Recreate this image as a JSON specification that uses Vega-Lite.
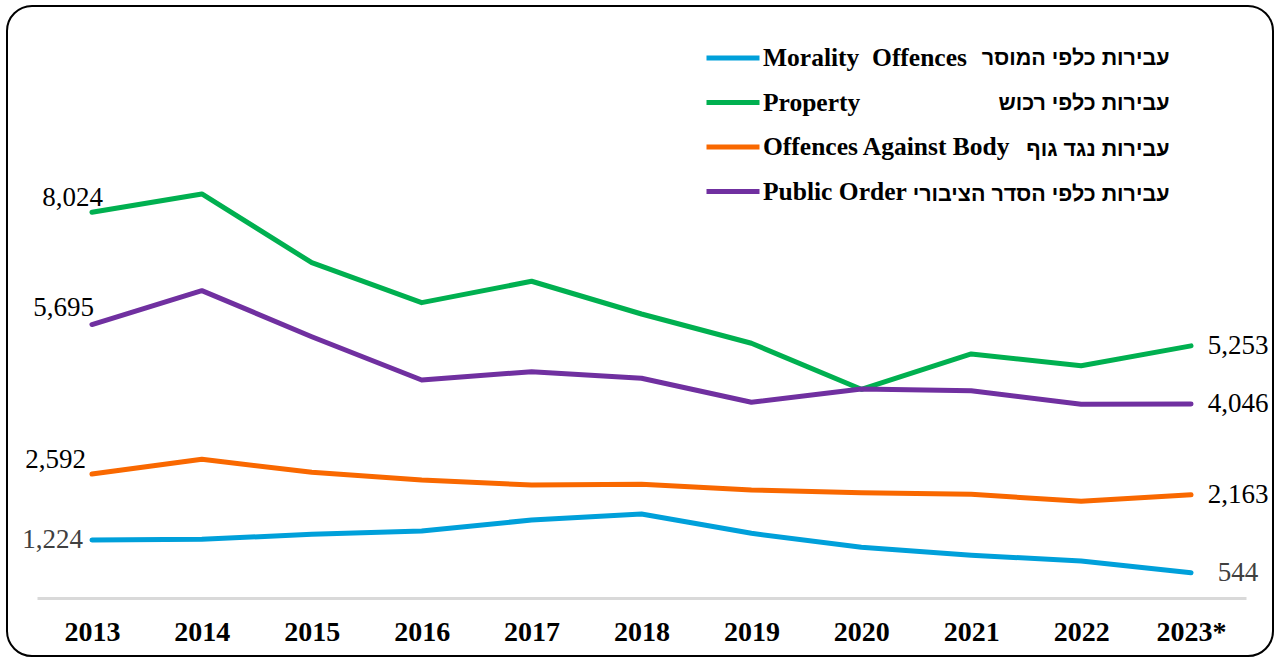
{
  "$schema": "https://vega.github.io/schema/vega-lite/v6.json",
  "autosize": "none",
  "width": 1266,
  "height": 650,
  "padding": {"left": 7, "top": 6, "right": 4, "bottom": 1},
  "background": "white",
  "config": {
    "view": {"stroke": "black", "strokeWidth": 2, "cornerRadius": 25, "fill": "white"},
    "font": "Liberation Serif"
  },
  "data": {
    "values": [
      {"year": "2013", "series": "Morality Offences", "he": "עבירות כלפי המוסר", "value": 1224},
      {"year": "2014", "series": "Morality Offences", "he": "עבירות כלפי המוסר", "value": 1239},
      {"year": "2015", "series": "Morality Offences", "he": "עבירות כלפי המוסר", "value": 1343},
      {"year": "2016", "series": "Morality Offences", "he": "עבירות כלפי המוסר", "value": 1411},
      {"year": "2017", "series": "Morality Offences", "he": "עבירות כלפי המוסר", "value": 1639},
      {"year": "2018", "series": "Morality Offences", "he": "עבירות כלפי המוסר", "value": 1764},
      {"year": "2019", "series": "Morality Offences", "he": "עבירות כלפי המוסר", "value": 1363},
      {"year": "2020", "series": "Morality Offences", "he": "עבירות כלפי המוסר", "value": 1073},
      {"year": "2021", "series": "Morality Offences", "he": "עבירות כלפי המוסר", "value": 907},
      {"year": "2022", "series": "Morality Offences", "he": "עבירות כלפי המוסר", "value": 789},
      {"year": "2023*", "series": "Morality Offences", "he": "עבירות כלפי המוסר", "value": 544},
      {"year": "2013", "series": "Property", "he": "עבירות כלפי רכוש", "value": 8024},
      {"year": "2014", "series": "Property", "he": "עבירות כלפי רכוש", "value": 8404},
      {"year": "2015", "series": "Property", "he": "עבירות כלפי רכוש", "value": 6979},
      {"year": "2016", "series": "Property", "he": "עבירות כלפי רכוש", "value": 6149},
      {"year": "2017", "series": "Property", "he": "עבירות כלפי רכוש", "value": 6593},
      {"year": "2018", "series": "Property", "he": "עבירות כלפי רכוש", "value": 5914},
      {"year": "2019", "series": "Property", "he": "עבירות כלפי רכוש", "value": 5306},
      {"year": "2020", "series": "Property", "he": "עבירות כלפי רכוש", "value": 4352},
      {"year": "2021", "series": "Property", "he": "עבירות כלפי רכוש", "value": 5084},
      {"year": "2022", "series": "Property", "he": "עבירות כלפי רכוש", "value": 4841},
      {"year": "2023*", "series": "Property", "he": "עבירות כלפי רכוש", "value": 5253},
      {"year": "2013", "series": "Offences Against Body", "he": "עבירות נגד גוף", "value": 2592},
      {"year": "2014", "series": "Offences Against Body", "he": "עבירות נגד גוף", "value": 2899},
      {"year": "2015", "series": "Offences Against Body", "he": "עבירות נגד גוף", "value": 2629},
      {"year": "2016", "series": "Offences Against Body", "he": "עבירות נגד גוף", "value": 2469},
      {"year": "2017", "series": "Offences Against Body", "he": "עבירות נגד גוף", "value": 2366},
      {"year": "2018", "series": "Offences Against Body", "he": "עבירות נגד גוף", "value": 2380},
      {"year": "2019", "series": "Offences Against Body", "he": "עבירות נגד גוף", "value": 2262},
      {"year": "2020", "series": "Offences Against Body", "he": "עבירות נגד גוף", "value": 2206},
      {"year": "2021", "series": "Offences Against Body", "he": "עבירות נגד גוף", "value": 2173},
      {"year": "2022", "series": "Offences Against Body", "he": "עבירות נגד גוף", "value": 2027},
      {"year": "2023*", "series": "Offences Against Body", "he": "עבירות נגד גוף", "value": 2163},
      {"year": "2013", "series": "Public Order", "he": "עבירות כלפי הסדר הציבורי", "value": 5695},
      {"year": "2014", "series": "Public Order", "he": "עבירות כלפי הסדר הציבורי", "value": 6398},
      {"year": "2015", "series": "Public Order", "he": "עבירות כלפי הסדר הציבורי", "value": 5443},
      {"year": "2016", "series": "Public Order", "he": "עבירות כלפי הסדר הציבורי", "value": 4545},
      {"year": "2017", "series": "Public Order", "he": "עבירות כלפי הסדר הציבורי", "value": 4717},
      {"year": "2018", "series": "Public Order", "he": "עבירות כלפי הסדר הציבורי", "value": 4580},
      {"year": "2019", "series": "Public Order", "he": "עבירות כלפי הסדר הציבורי", "value": 4082},
      {"year": "2020", "series": "Public Order", "he": "עבירות כלפי הסדר הציבורי", "value": 4358},
      {"year": "2021", "series": "Public Order", "he": "עבירות כלפי הסדר הציבורי", "value": 4322},
      {"year": "2022", "series": "Public Order", "he": "עבירות כלפי הסדר הציבורי", "value": 4040},
      {"year": "2023*", "series": "Public Order", "he": "עבירות כלפי הסדר הציבורי", "value": 4046}
    ]
  },
  "encoding": {
    "x": {
      "field": "year",
      "type": "ordinal",
      "scale": {"type": "point", "range": [30, 1239], "padding": 0.5},
      "axis": {
        "title": null,
        "labelAngle": 0,
        "ticks": false,
        "tickSize": 0,
        "grid": false,
        "offset": -58,
        "domainColor": "#d9d9d9",
        "domainWidth": 3,
        "labelFont": "Liberation Serif",
        "labelFontSize": 28,
        "labelFontWeight": "bold",
        "labelColor": "black",
        "labelBaseline": "alphabetic",
        "labelPadding": 42
      }
    },
    "y": {
      "field": "value",
      "type": "quantitative",
      "scale": {"domain": [-1183, 12305], "nice": false, "zero": false},
      "axis": null
    }
  },
  "layer": [
    {
      "mark": {"type": "line", "strokeWidth": 5, "strokeCap": "round", "strokeJoin": "round"},
      "encoding": {
        "color": {
          "field": "series",
          "type": "nominal",
          "scale": {
            "domain": ["Morality Offences", "Property", "Offences Against Body", "Public Order"],
            "range": ["#00A0DA", "#00B050", "#F96800", "#7030A0"]
          },
          "legend": {
            "title": null,
            "orient": "none",
            "legendX": 697,
            "legendY": 23,
            "padding": 0,
            "symbolType": "stroke",
            "symbolStrokeWidth": 5,
            "symbolSize": 2809,
            "labelFont": "Liberation Serif",
            "labelFontWeight": "bold",
            "labelFontSize": 25.5,
            "labelColor": "black",
            "labelOffset": 1,
            "labelLimit": 0,
            "rowPadding": 1.5,
            "labelExpr": "datum.label === 'Morality Offences' ? 'Morality\u00a0 Offences' : datum.label"
          }
        }
      }
    },
    {
      "mark": {"type": "point", "opacity": 0},
      "encoding": {
        "shape": {
          "field": "he",
          "type": "nominal",
          "scale": {"domain": ["עבירות כלפי המוסר", "עבירות כלפי רכוש", "עבירות נגד גוף", "עבירות כלפי הסדר הציבורי"]},
          "legend": {
            "title": null,
            "orient": "none",
            "legendX": 1141,
            "legendY": 42,
            "padding": 0,
            "symbolOpacity": 0,
            "symbolStrokeWidth": 0,
            "symbolSize": 4,
            "labelFont": "Liberation Sans",
            "labelFontWeight": "bold",
            "labelFontSize": 21.5,
            "labelColor": "black",
            "labelAlign": "right",
            "labelOffset": 0,
            "labelLimit": 0,
            "rowPadding": 22.5
          }
        }
      }
    },
    {
      "transform": [{"filter": "datum.year === '2013' && datum.series === 'Property'"}],
      "mark": {"type": "text", "align": "right", "baseline": "alphabetic", "dx": 11, "dy": -6, "fontSize": 27, "font": "Liberation Serif", "color": "black"},
      "encoding": {"text": {"field": "value", "type": "quantitative", "format": ","}}
    },
    {
      "transform": [{"filter": "datum.year === '2013' && datum.series === 'Public Order'"}],
      "mark": {"type": "text", "align": "right", "baseline": "alphabetic", "dx": 2, "dy": -9, "fontSize": 27, "font": "Liberation Serif", "color": "black"},
      "encoding": {"text": {"field": "value", "type": "quantitative", "format": ","}}
    },
    {
      "transform": [{"filter": "datum.year === '2013' && datum.series === 'Offences Against Body'"}],
      "mark": {"type": "text", "align": "right", "baseline": "alphabetic", "dx": -6, "dy": -6, "fontSize": 27, "font": "Liberation Serif", "color": "black"},
      "encoding": {"text": {"field": "value", "type": "quantitative", "format": ","}}
    },
    {
      "transform": [{"filter": "datum.year === '2013' && datum.series === 'Morality Offences'"}],
      "mark": {"type": "text", "align": "right", "baseline": "middle", "dx": -9, "dy": 0, "fontSize": 27, "font": "Liberation Serif", "color": "#404040"},
      "encoding": {"text": {"field": "value", "type": "quantitative", "format": ","}}
    },
    {
      "transform": [{"filter": "datum.year === '2023*'"}],
      "mark": {"type": "text", "align": "center", "baseline": "middle", "dx": 47, "fontSize": 27, "font": "Liberation Serif"},
      "encoding": {
        "text": {"field": "value", "type": "quantitative", "format": ","},
        "color": {
          "condition": {"test": "datum.series === 'Morality Offences'", "value": "#404040"},
          "value": "black"
        }
      }
    }
  ]
}
